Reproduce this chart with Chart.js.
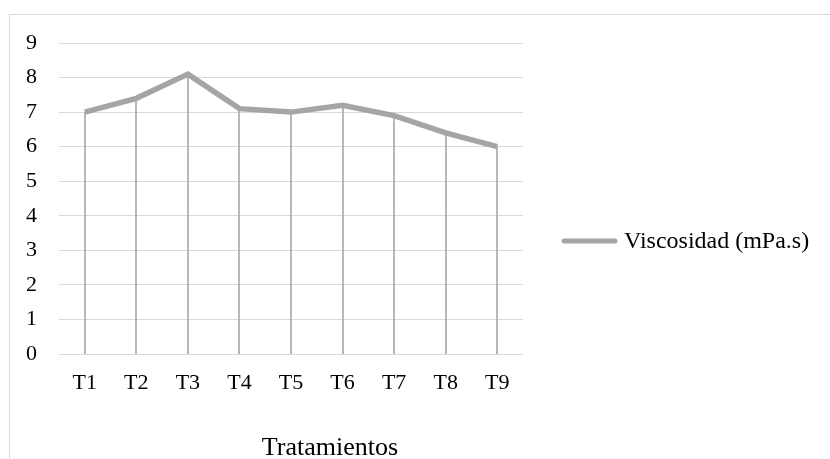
<!DOCTYPE html>
<html>
<head>
<meta charset="utf-8">
<script src="https://cdn.jsdelivr.net/npm/chart.js@4/dist/chart.umd.min.js"></script>
<style>
  html, body { margin: 0; padding: 0; background: #ffffff; }
  #wrap { width: 830px; height: 459px; position: relative; }
</style>
</head>
<body>
<div id="wrap"><canvas id="c" width="830" height="459"></canvas></div>
<script>
// Data
const categories = ['T1', 'T2', 'T3', 'T4', 'T5', 'T6', 'T7', 'T8', 'T9'];
const viscosity = [7.0, 7.4, 8.1, 7.1, 7.0, 7.2, 6.9, 6.4, 6.0];
const yTickValues = [0, 1, 2, 3, 4, 5, 6, 7, 8, 9];
const seriesLabel = 'Viscosidad (mPa.s)';
const xAxisTitle = 'Tratamientos';

const FONT = '"Liberation Serif", "Times New Roman", serif';
const LINE_COLOR = '#a5a5a5';
const GRID_COLOR = '#d9d9d9';

// Light frame around the chart
const framePlugin = {
  id: 'frame',
  beforeDraw(chart) {
    const ctx = chart.ctx;
    ctx.save();
    ctx.strokeStyle = GRID_COLOR;
    ctx.lineWidth = 1;
    ctx.strokeRect(9.5, 14.5, 1000, 600);
    ctx.restore();
  }
};

// Vertical drop lines from each point down to zero
const dropLinesPlugin = {
  id: 'dropLines',
  beforeDatasetsDraw(chart) {
    const ctx = chart.ctx;
    const yScale = chart.scales.y;
    const base = yScale.getPixelForValue(0);
    const meta = chart.getDatasetMeta(0);
    ctx.save();
    ctx.strokeStyle = '#a6a6a6';
    ctx.lineWidth = 1.6;
    meta.data.forEach(pt => {
      ctx.beginPath();
      ctx.moveTo(Math.round(pt.x), pt.y);
      ctx.lineTo(Math.round(pt.x), base);
      ctx.stroke();
    });
    ctx.restore();
  }
};

// Legend on the right and the category axis title
const sideTextPlugin = {
  id: 'sideText',
  afterDraw(chart) {
    const ctx = chart.ctx;
    const area = chart.chartArea;
    const ds = chart.data.datasets[0];
    ctx.save();
    // legend sample
    const ly = 241;
    const lx0 = area.right + 39;
    ctx.strokeStyle = ds.borderColor;
    ctx.lineWidth = 5;
    ctx.lineCap = 'round';
    ctx.beginPath();
    ctx.moveTo(lx0 + 2, ly);
    ctx.lineTo(lx0 + 53, ly);
    ctx.stroke();
    ctx.fillStyle = '#000000';
    ctx.font = '24px ' + FONT;
    ctx.textBaseline = 'middle';
    ctx.textAlign = 'left';
    ctx.fillText(ds.label, lx0 + 62, ly + 1);
    // axis title
    ctx.font = '26px ' + FONT;
    ctx.textAlign = 'center';
    ctx.textBaseline = 'alphabetic';
    ctx.fillText(xAxisTitle, area.left + 271, 455);
    ctx.restore();
  }
};

new Chart(document.getElementById('c'), {
  type: 'line',
  data: {
    labels: categories,
    datasets: [{
      label: seriesLabel,
      data: viscosity,
      borderColor: LINE_COLOR,
      backgroundColor: LINE_COLOR,
      borderWidth: 5.5,
      pointRadius: 0,
      tension: 0,
      fill: false
    }]
  },
  options: {
    responsive: false,
    animation: false,
    devicePixelRatio: 1,
    layout: { padding: { left: 0, top: 43, right: 307, bottom: 0 } },
    plugins: {
      legend: { display: false },
      tooltip: { enabled: false }
    },
    scales: {
      x: {
        offset: true,
        grid: { display: false, drawTicks: false },
        border: { display: false },
        ticks: { color: '#000000', font: { family: FONT, size: 22 }, padding: 16, maxRotation: 0 },
        afterFit(scale) { scale.height = 105; }
      },
      y: {
        min: 0,
        max: 9,
        afterBuildTicks(scale) { scale.ticks = yTickValues.map(v => ({ value: v })); },
        grid: { color: GRID_COLOR, lineWidth: 1, drawTicks: false },
        border: { display: false },
        ticks: { color: '#000000', font: { family: FONT, size: 22 }, padding: 22 },
        afterFit(scale) { scale.width = 59; }
      }
    }
  },
  plugins: [framePlugin, dropLinesPlugin, sideTextPlugin]
});
</script>
</body>
</html>
